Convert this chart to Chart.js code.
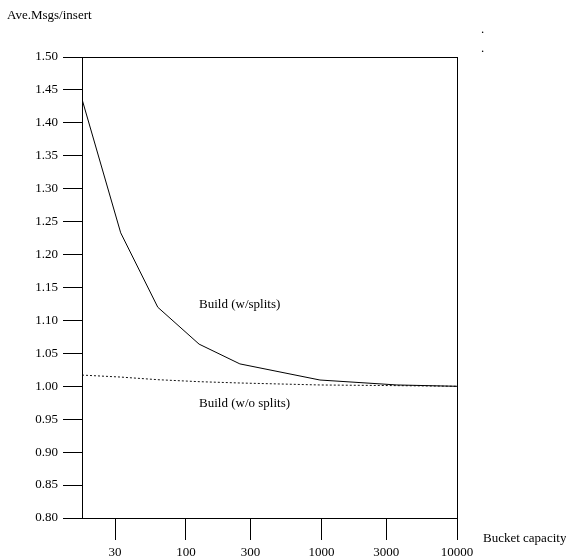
<!DOCTYPE html>
<html>
<head>
<meta charset="utf-8">
<script src="https://cdn.jsdelivr.net/npm/chart.js@4.4.1/dist/chart.umd.min.js"></script>
<style>
  html, body { margin: 0; padding: 0; background: #fff; }
  #wrap { width: 566px; height: 559px; }
</style>
</head>
<body>
<div id="wrap"><canvas id="chart" width="566" height="559"></canvas></div>
<script>
const capacity = [17.1, 33, 62, 125, 250, 975, 3600, 10000];
const withSplits = [1.436, 1.233, 1.120, 1.064, 1.034, 1.0095, 1.002, 1.000];
const withoutSplits = [1.017, 1.014, 1.010, 1.007, 1.005, 1.002, 1.001, 1.000];
const xTicks = [30, 100, 300, 1000, 3000, 10000];
const yTicks = [0.80, 0.85, 0.90, 0.95, 1.00, 1.05, 1.10, 1.15, 1.20, 1.25, 1.30, 1.35, 1.40, 1.45, 1.50];

const FONT = "'Liberation Serif', 'Times New Roman', serif";

// frame + free text labels
const decorations = {
  id: "decorations",
  afterDraw(chart) {
    const { ctx, chartArea: a, scales } = chart;
    ctx.save();
    ctx.strokeStyle = "#000";
    ctx.lineWidth = 1;
    ctx.strokeRect(Math.round(a.left) + 0.5, Math.round(a.top) + 0.5,
      Math.round(a.right - a.left), Math.round(a.bottom - a.top));
    ctx.fillStyle = "#000";
    ctx.font = "13px " + FONT;
    ctx.textBaseline = "middle";
    ctx.textAlign = "left";
    ctx.fillText("Ave.Msgs/insert", 7, 16);
    ctx.fillText("Bucket capacity", 483, 539);
    ctx.fillText(".", 481, 30);
    ctx.fillText(".", 481, 49);
    const x = scales.x.getPixelForValue(125);
    ctx.fillText("Build (w/splits)", x, scales.y.getPixelForValue(1.1235));
    ctx.fillText("Build (w/o splits)", x, scales.y.getPixelForValue(0.9745));
    ctx.restore();
  }
};

new Chart(document.getElementById("chart"), {
  type: "line",
  data: {
    datasets: [{
      data: capacity.map((c, i) => ({ x: c, y: withSplits[i] })),
      borderColor: "#000",
      borderWidth: 1,
    }, {
      data: capacity.map((c, i) => ({ x: c, y: withoutSplits[i] })),
      borderColor: "#111",
      borderWidth: 1,
      borderDash: [2, 2],
    }]
  },
  options: {
    responsive: false,
    animation: false,
    layout: {
      padding: { top: 57, right: 109, bottom: 0, left: 0 }
    },
    plugins: {
      legend: { display: false },
      tooltip: { enabled: false }
    },
    elements: {
      point: { radius: 0 },
      line: { tension: 0 }
    },
    scales: {
      x: {
        type: "logarithmic",
        min: 17.1,
        max: 10000,
        afterBuildTicks: s => { s.ticks = xTicks.map(v => ({ value: v })); },
        afterFit: s => { s.height = 41; },
        border: { color: "#000", width: 1 },
        grid: { drawOnChartArea: false, color: "#000", tickLength: 22 },
        ticks: {
          color: "#000",
          font: { family: FONT, size: 13 },
          padding: 5,
          maxRotation: 0,
          autoSkip: false,
          callback: v => String(v)
        }
      },
      y: {
        min: 0.80,
        max: 1.50,
        afterBuildTicks: s => { s.ticks = yTicks.map(v => ({ value: v })); },
        afterFit: s => { s.width = 82; },
        border: { color: "#000", width: 1 },
        grid: { drawOnChartArea: false, color: "#000", tickLength: 19 },
        ticks: {
          color: "#000",
          font: { family: FONT, size: 13 },
          padding: 5,
          callback: v => Number(v).toFixed(2)
        }
      }
    }
  },
  plugins: [decorations]
});
</script>
</body>
</html>
